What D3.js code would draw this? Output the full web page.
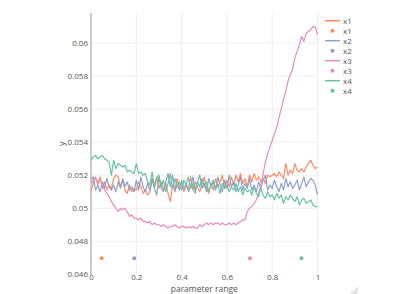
<!DOCTYPE html>
<html><head><meta charset="utf-8">
<script src="https://cdn.jsdelivr.net/npm/d3@7"></script>
<style>
html,body{margin:0;padding:0;background:#fff;}
svg{display:block;font-family:"Open Sans",sans-serif;}
</style></head>
<body><svg id="c" width="415" height="294"></svg>
<script>
const xTicks = [0, 0.2, 0.4, 0.6, 0.8, 1];
const xTickLabels = ["0", "0.2", "0.4", "0.6", "0.8", "1"];
const yTicks = [0.046, 0.048, 0.05, 0.052, 0.054, 0.056, 0.058, 0.06];
const yTickLabels = ["0.046", "0.048", "0.05", "0.052", "0.054", "0.056", "0.058", "0.06"];
const seriesNames = ["x1", "x2", "x3", "x4"];
const seriesColors = ["#fc8d62", "#8da0cb", "#e78ac3", "#66c2a5"];
const xValues = d3.range(101).map(i => i / 100);

const x1 = [0.0510,0.0515,0.0519,0.0514,0.0519,0.0512,0.0516,0.0511,0.0514,0.0512,
0.0518,0.0520,0.0519,0.0513,0.0517,0.0511,0.0509,0.0514,0.0510,0.0512,
0.0511,0.0516,0.0513,0.0509,0.0511,0.0508,0.0510,0.0517,0.0514,0.0519,
0.0512,0.0516,0.0511,0.0515,0.0509,0.0504,0.0514,0.0511,0.0518,0.0512,
0.0515,0.0510,0.0514,0.0512,0.0519,0.0511,0.0516,0.0513,0.0510,0.0514,
0.0519,0.0512,0.0509,0.0515,0.0511,0.0518,0.0513,0.0516,0.0520,0.0512,
0.0517,0.0513,0.0519,0.0514,0.0520,0.0516,0.0521,0.0515,0.0518,0.0513,
0.0520,0.0516,0.0521,0.0517,0.0519,0.0516,0.0518,0.0515,0.0520,0.0519,
0.0520,0.0521,0.0519,0.0522,0.0520,0.0518,0.0527,0.0520,0.0523,0.0521,
0.0527,0.0523,0.0522,0.0524,0.0522,0.0525,0.0527,0.0529,0.0526,0.0524,
0.0525];
const x2 = [0.0517,0.0519,0.0511,0.0514,0.0510,0.0516,0.0512,0.0518,0.0513,0.0511,
0.0514,0.0510,0.0516,0.0512,0.0518,0.0513,0.0516,0.0511,0.0513,0.0510,
0.0517,0.0511,0.0519,0.0513,0.0510,0.0515,0.0511,0.0518,0.0512,0.0508,
0.0519,0.0512,0.0510,0.0516,0.0521,0.0513,0.0520,0.0510,0.0514,0.0511,
0.0517,0.0512,0.0515,0.0510,0.0513,0.0519,0.0511,0.0516,0.0520,0.0512,
0.0515,0.0510,0.0518,0.0513,0.0516,0.0511,0.0519,0.0514,0.0510,0.0517,
0.0512,0.0520,0.0513,0.0516,0.0510,0.0514,0.0519,0.0511,0.0515,0.0512,
0.0518,0.0511,0.0514,0.0510,0.0516,0.0512,0.0517,0.0520,0.0511,0.0514,
0.0512,0.0517,0.0513,0.0510,0.0515,0.0511,0.0518,0.0513,0.0516,0.0512,
0.0514,0.0517,0.0511,0.0515,0.0519,0.0513,0.0516,0.0518,0.0517,0.0514,
0.0508];
const x3 = [0.0515,0.0517,0.0518,0.0516,0.0517,0.0514,0.0511,0.0509,0.0507,0.0504,
0.0502,0.0500,0.0498,0.0500,0.0499,0.0500,0.0498,0.0495,0.0496,0.0494,
0.0494,0.0493,0.0494,0.0492,0.0492,0.0491,0.0492,0.0490,0.0491,0.0490,
0.0490,0.0489,0.0490,0.0489,0.0488,0.0489,0.0489,0.0490,0.0489,0.0488,
0.0489,0.0489,0.0488,0.0489,0.0488,0.0489,0.0488,0.0488,0.0490,0.0489,
0.0490,0.0491,0.0490,0.0491,0.0490,0.0491,0.0491,0.0490,0.0491,0.0490,
0.0490,0.0491,0.0490,0.0491,0.0490,0.0491,0.0492,0.0493,0.0493,0.0498,
0.0500,0.0501,0.0503,0.0505,0.0509,0.0514,0.0521,0.0528,0.0533,0.0537,
0.0541,0.0545,0.0549,0.0555,0.0560,0.0566,0.0571,0.0577,0.0581,0.0584,
0.0591,0.0595,0.0599,0.0604,0.0601,0.0606,0.0607,0.0608,0.0610,0.0610,
0.0605];
const x4 = [0.0529,0.0531,0.0532,0.0530,0.0531,0.0532,0.0530,0.0529,0.0528,0.0520,
0.0529,0.0524,0.0527,0.0526,0.0525,0.0526,0.0522,0.0523,0.0522,0.0521,
0.0527,0.0521,0.0522,0.0520,0.0521,0.0516,0.0514,0.0522,0.0512,0.0518,
0.0520,0.0513,0.0517,0.0510,0.0515,0.0521,0.0512,0.0518,0.0514,0.0516,
0.0511,0.0517,0.0514,0.0519,0.0512,0.0515,0.0509,0.0516,0.0513,0.0518,
0.0513,0.0516,0.0510,0.0514,0.0517,0.0512,0.0514,0.0509,0.0515,0.0512,
0.0514,0.0510,0.0513,0.0511,0.0515,0.0510,0.0513,0.0508,0.0512,0.0510,
0.0511,0.0508,0.0513,0.0509,0.0507,0.0512,0.0508,0.0506,0.0510,0.0507,
0.0508,0.0505,0.0509,0.0506,0.0508,0.0503,0.0507,0.0505,0.0508,0.0506,
0.0504,0.0507,0.0502,0.0505,0.0506,0.0503,0.0504,0.0505,0.0502,0.0501,
0.0501];
const lineSeries = [x1, x2, x3, x4];
const pointX = [0.047, 0.191, 0.702, 0.929];
const pointY = [0.04697, 0.04697, 0.04697, 0.04697];

const svg = d3.select("#c");
const L = 91, T = 13, W = 226.5, H = 261.3;
const x = d3.scaleLinear().domain([0, 1]).range([L, L + W]);
const y = d3.scaleLinear().domain([0.046, 0.06182]).range([T + H, T]);

// grid
const g = svg.append("g");
g.selectAll(".gx").data(xTicks.slice(1)).enter().append("line")
  .attr("x1", d => x(d)).attr("x2", d => x(d)).attr("y1", T).attr("y2", T + H)
  .attr("stroke", "#eeeeee").attr("stroke-width", 1);
g.selectAll(".gy").data(yTicks.slice(1)).enter().append("line")
  .attr("x1", L).attr("x2", L + W).attr("y1", d => y(d)).attr("y2", d => y(d))
  .attr("stroke", "#eeeeee").attr("stroke-width", 1);

// axes via d3
const yAxis = d3.axisLeft(y).tickValues(yTicks).tickFormat((d, i) => yTickLabels[i]).tickSize(0).tickPadding(3);
const ya = svg.append("g").attr("transform", `translate(${L},0)`).call(yAxis);
ya.select(".domain").remove();
ya.selectAll("text").attr("fill", "#555").style("font-size", "8px").style("font-family", "'Open Sans',sans-serif");

const xAxis = d3.axisBottom(x).tickValues(xTicks).tickFormat((d, i) => xTickLabels[i]).tickSize(0).tickPadding(0);
const xa = svg.append("g").attr("transform", `translate(0,${T + H})`).call(xAxis);
xa.select(".domain").remove();
xa.selectAll("text").attr("fill", "#555").style("font-size", "8px").style("font-family", "'Open Sans',sans-serif");

// y axis line
svg.append("line").attr("x1", L).attr("x2", L).attr("y1", T).attr("y2", T + H + 1)
  .attr("stroke", "#b8b8b8").attr("stroke-width", 1.5);

// lines
const line = d3.line().x((d, i) => x(xValues[i])).y(d => y(d));
svg.append("clipPath").attr("id", "clp").append("rect")
  .attr("x", L).attr("y", T).attr("width", W + 1).attr("height", H);
const lg = svg.append("g").attr("clip-path", "url(#clp)");
lineSeries.forEach((s, k) => {
  lg.append("path").datum(s).attr("d", line).attr("fill", "none")
    .attr("stroke", seriesColors[k]).attr("stroke-width", 1.2).attr("stroke-linejoin", "round");
});
// points
seriesNames.forEach((n, k) => {
  svg.append("circle").attr("cx", x(pointX[k])).attr("cy", y(pointY[k])).attr("r", 2)
    .attr("fill", seriesColors[k]);
});

// axis titles
svg.append("text").attr("x", x(0.5)).attr("y", 291.5).attr("text-anchor", "middle")
  .attr("fill", "#555").style("font-size", "8.5px").text("parameter range");
svg.append("text").attr("transform", `translate(65,${T + H / 2}) rotate(-90)`).attr("text-anchor", "middle")
  .attr("fill", "#555").style("font-size", "9px").text("y");

// legend
const leg = svg.append("g");
seriesNames.forEach((n, k) => {
  const y0 = 20.7 + k * 20;
  leg.append("line").attr("x1", 325).attr("x2", 340).attr("y1", y0).attr("y2", y0)
    .attr("stroke", seriesColors[k]).attr("stroke-width", 1.5);
  leg.append("text").attr("x", 343).attr("y", y0 + 3).attr("fill", "#555").style("font-size", "8px").text(n);
  leg.append("circle").attr("cx", 332.5).attr("cy", y0 + 10).attr("r", 2).attr("fill", seriesColors[k]);
  leg.append("text").attr("x", 343).attr("y", y0 + 13).attr("fill", "#555").style("font-size", "8px").text(n);
});

// corner fold mark
svg.append("path").attr("d", "M358,286 L358,294 L350,294 Z").attr("fill", "#e4e4e4");
</script></body></html>
